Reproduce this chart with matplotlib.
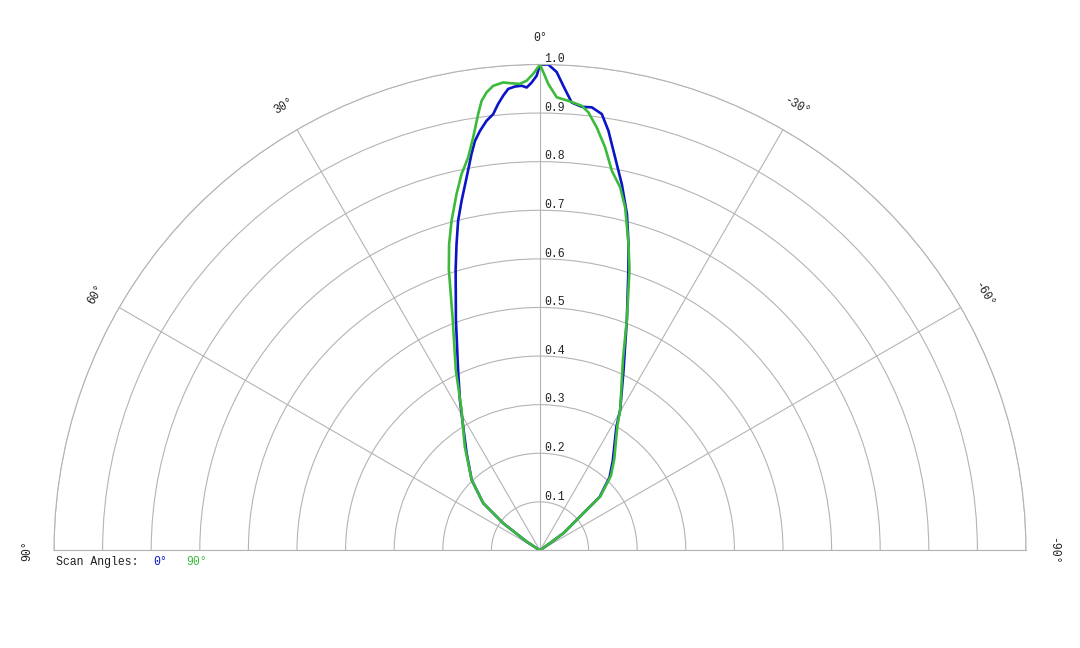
import numpy as np
import matplotlib.pyplot as plt

# DATA (relative intensity vs. angle in degrees, +ve to the left)
blue_theta = [57, 56.5, 53.5, 50.2, 44.1, 37.0, 31.8, 28.0, 24.4, 20.0, 16.7, 15.25, 13.95, 12.65,
              11.14, 9.80, 9.03, 8.15, 7.09, 6.12, 5.35, 4.62, 3.94, 3.09, 2.26, 1.65, 1.02, 0.40,
              0, -0.98, -2.00, -2.88, -4.05, -5.38, -6.67, -8.06, -9.26, -10.83, -12.60, -14.49,
              -16.12, -17.47, -20.6, -24.8, -29.7, -31.8, -39.0, -43.5, -48.1, -49.3, -53.6, -56]
blue_r = [0, 0.033, 0.094, 0.152, 0.202, 0.251, 0.300, 0.351, 0.408, 0.506, 0.604, 0.653, 0.699,
          0.737, 0.782, 0.828, 0.853, 0.872, 0.891, 0.903, 0.923, 0.939, 0.952, 0.956, 0.957,
          0.953, 0.963, 0.977, 1.0, 1.000, 0.985, 0.957, 0.924, 0.917, 0.918, 0.907, 0.875,
          0.823, 0.772, 0.715, 0.656, 0.606, 0.508, 0.410, 0.333, 0.298, 0.238, 0.208, 0.165,
          0.118, 0.060, 0]

green_theta = [57, 56.5, 53.5, 50.2, 44.1, 35.9, 29.1, 25.0, 20.7, 17.97, 16.54, 15.03, 13.19,
               11.78, 10.36, 9.19, 8.06, 7.40, 6.65, 5.75, 4.49, 3.47, 2.46, 1.63, 0.81, 0,
               -1.02, -2.12, -3.61, -5.37, -6.30, -7.65, -9.18, -10.72, -12.46, -13.95, -16.12,
               -17.66, -20.6, -23.5, -29.7, -31.8, -39.0, -43.5, -48.1, -49.3, -53.6, -56]
green_r = [0, 0.033, 0.094, 0.152, 0.202, 0.264, 0.332, 0.410, 0.508, 0.608, 0.657, 0.702, 0.753,
           0.791, 0.822, 0.861, 0.907, 0.933, 0.949, 0.961, 0.966, 0.963, 0.961, 0.967, 0.981,
           1.0, 0.960, 0.933, 0.927, 0.919, 0.907, 0.878, 0.840, 0.795, 0.765, 0.727, 0.656,
           0.607, 0.508, 0.428, 0.333, 0.302, 0.243, 0.212, 0.167, 0.119, 0.060, 0]

ring_values = [0.1, 0.2, 0.3, 0.4, 0.5, 0.6, 0.7, 0.8, 0.9, 1.0]
spoke_angles = [90, 60, 30, 0, -30, -60, -90]
scan_labels = ['0°', '90°']

BLUE = '#0c14c8'
GREEN = '#3cba3c'
GRID = '#b4b4b4'
TXT = '#222222'
FONT = ['Liberation Mono', 'DejaVu Sans Mono']

plt.rcParams['font.family'] = FONT
plt.rcParams['font.size'] = 8.3

fig = plt.figure(figsize=(10.8, 6.48), dpi=100)
# polar wedge sits in a square box; half circle centred vertically in it
ax = fig.add_axes([0.05, -0.2245, 0.9, 1.5], projection='polar')
ax.set_theta_zero_location('N')
ax.set_theta_direction(1)
ax.set_thetamin(-90)
ax.set_thetamax(90)
ax.set_ylim(0, 1.0)

ax.set_rgrids(ring_values, labels=[''] * len(ring_values))
ax.set_thetagrids(spoke_angles, labels=[''] * len(spoke_angles))
ax.grid(True, color=GRID, lw=0.8)
for sp in ax.spines.values():
    sp.set_color(GRID)
    sp.set_linewidth(0.8)
ax.tick_params(length=0)

ax.plot(np.radians(blue_theta), blue_r, color=BLUE, lw=1.9, solid_joinstyle='round')
ax.plot(np.radians(green_theta), green_r, color=GREEN, lw=1.9, solid_joinstyle='round')

# radial labels along the 0 deg spoke
for v in ring_values:
    ax.annotate(f'{v:.1f}', xy=(0, v), xytext=(3, -0.5), textcoords='offset points',
                ha='left', va='bottom', color=TXT)

# angle labels outside the outer ring
for a in spoke_angles:
    ax.text(np.radians(a), 1.055, f'{a}°', rotation=a, rotation_mode='anchor',
            ha='center', va='center', color=TXT, clip_on=False)

fig.text(0.0519, 0.1327, 'Scan Angles:', ha='left', va='center', color=TXT)
fig.text(0.1417, 0.1327, scan_labels[0], ha='left', va='center', color=BLUE)
fig.text(0.1722, 0.1327, scan_labels[1], ha='left', va='center', color=GREEN)

fig.savefig('out.png', dpi=100)
